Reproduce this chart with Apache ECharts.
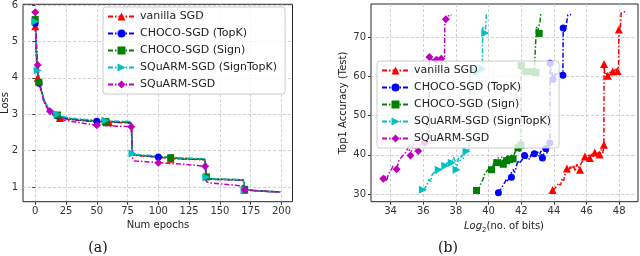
<!DOCTYPE html>
<html><head><meta charset="utf-8">
<script src="https://cdn.jsdelivr.net/npm/echarts@6/dist/echarts.min.js"></script>
<style>html,body{margin:0;padding:0;background:#fff}#c{width:640px;height:256px}</style>
</head><body><div id="c"></div>
<script>
// ---------- names ----------
const seriesNames = ['vanilla SGD', 'CHOCO-SGD (TopK)', 'CHOCO-SGD (Sign)', 'SQuARM-SGD (SignTopK)', 'SQuARM-SGD'];

// ---------- panel (a): loss vs epochs ----------
const epochs = [0,1,2,3,4,5,7,10,12,15,18,20,25,30,40,50,57,60,70,78,79,81,90,100,110,120,130,138,139,141,150,160,169,170,180,190,199];
const lossVanilla   = [5.42,4.55,4.0,3.82,3.72,3.63,3.36,3.17,3.08,2.99,2.93,2.9,2.87,2.85,2.82,2.8,2.78,2.78,2.77,2.76,1.9,1.87,1.85,1.82,1.78,1.77,1.76,1.75,1.27,1.22,1.21,1.2,1.19,0.93,0.9,0.88,0.87];
const lossTopK      = [5.5,4.6,4.1,3.85,3.74,3.64,3.38,3.18,3.09,3.0,2.95,2.92,2.89,2.86,2.83,2.81,2.79,2.79,2.78,2.77,1.9,1.88,1.86,1.83,1.8,1.78,1.77,1.76,1.26,1.22,1.21,1.2,1.19,0.93,0.9,0.88,0.87];
const lossSign      = [5.6,4.7,4.15,3.88,3.76,3.66,3.4,3.19,3.1,3.01,2.98,2.94,2.9,2.87,2.84,2.82,2.8,2.8,2.79,2.78,1.9,1.88,1.86,1.84,1.81,1.79,1.78,1.77,1.28,1.23,1.22,1.21,1.2,0.94,0.9,0.88,0.87];
const lossSignTopK  = [5.55,4.75,4.2,3.9,3.78,3.68,3.42,3.21,3.12,3.04,3.0,2.96,2.92,2.89,2.86,2.84,2.83,2.82,2.81,2.8,1.92,1.9,1.88,1.85,1.82,1.8,1.79,1.78,1.27,1.24,1.22,1.21,1.21,0.93,0.9,0.88,0.87];
const lossSquarm    = [5.8,5.0,4.35,4.0,3.8,3.62,3.35,3.15,3.08,2.96,2.9,2.87,2.83,2.8,2.75,2.7,2.69,2.68,2.67,2.66,1.8,1.72,1.7,1.67,1.65,1.63,1.6,1.57,1.15,1.12,1.09,1.06,1.03,0.93,0.9,0.88,0.87];
const lossMarksVanilla  = [0,2,11,17,24,33];
const lossMarksTopK     = [0,3,10,15,23,33];
const lossMarksSign     = [0,3,10,16,24,28,33];
const lossMarksSignTopK = [0,2,10,16,20,28,33];
const lossMarksSquarm   = [0,2,8,15,19,23,27,33];
const epochTicks = [0,25,50,75,100,125,150,175,200];
const lossTicks  = [1,2,3,4,5,6];

// ---------- panel (b): accuracy vs log2(bits) ----------
const bitsVanilla = [43.92,44.0,44.1,44.2,44.3,44.4,44.5,44.6,44.7,44.8,44.9,45.0,45.1,45.2,45.3,45.4,45.5,45.6,45.7,45.8,45.9,46.0,46.1,46.2,46.3,46.4,46.5,46.6,46.7,46.8,46.9,47.0,47.06,47.07,47.12,47.2,47.3,47.4,47.5,47.6,47.7,47.8,47.9,47.96,47.98,48.03,48.08,48.12,48.25,48.4];
const accVanilla  = [31.0,30.6,31.6,31.2,32.8,32.2,34.0,33.4,35.6,36.5,35.6,37.0,36.4,37.4,35.8,37.6,36.6,36.2,38.0,38.8,39.6,38.8,39.9,39.2,40.2,39.5,40.6,39.8,40.9,40.1,41.3,40.5,42.6,63.2,60.0,60.8,60.2,61.0,60.5,61.3,60.9,61.8,61.4,62.0,72.0,71.4,73.0,76.2,76.5,76.5];
const bitsTopK = [40.6,40.7,40.8,40.9,41.0,41.1,41.2,41.3,41.4,41.5,41.6,41.7,41.8,41.9,42.0,42.1,42.2,42.3,42.4,42.5,42.6,42.7,42.8,42.9,43.0,43.1,43.2,43.3,43.4,43.5,43.6,43.75,43.77,43.85,43.95,44.05,44.15,44.3,44.45,44.55,44.57,44.65,44.75,44.85,44.95,45.05];
const accTopK  = [30.3,30.7,31.6,31.2,33.0,33.9,33.2,34.6,34.3,36.2,35.5,37.0,38.6,37.8,38.3,39.1,39.8,39.0,39.7,38.8,40.0,40.6,40.3,39.9,40.8,39.6,41.0,39.2,40.6,41.6,40.3,43.0,63.4,61.5,59.3,60.6,61.1,60.5,61.2,60.3,72.4,71.5,72.8,75.7,75.8,75.8];
const bitsSign = [39.26,39.35,39.45,39.55,39.65,39.75,39.85,39.95,40.05,40.18,40.3,40.4,40.5,40.6,40.7,40.8,40.9,41.0,41.1,41.2,41.3,41.4,41.5,41.6,41.7,41.8,41.9,41.98,42.0,42.1,42.2,42.3,42.4,42.5,42.6,42.7,42.8,42.9,42.93,43.0,43.1,43.15,43.2,43.25];
const accSign  = [30.9,31.0,31.8,33.0,33.6,35.0,35.6,35.9,36.6,36.2,37.6,39.0,38.0,39.3,38.2,39.5,37.6,39.0,38.5,39.8,38.8,40.0,39.0,40.5,40.0,41.8,40.8,42.5,62.8,61.0,60.5,61.2,60.6,61.0,60.8,61.2,61.5,61.0,72.7,71.5,71.0,74.0,76.0,75.8];
const bitsSignTopK = [35.98,36.05,36.15,36.25,36.35,36.45,36.55,36.65,36.75,36.85,36.95,37.05,37.15,37.25,37.35,37.45,37.55,37.65,37.75,37.85,37.95,38.04,38.15,38.25,38.35,38.45,38.55,38.65,38.8,38.86,38.95,39.05,39.15,39.25,39.35,39.45,39.55,39.62,39.64,39.72,39.8,39.86,39.95,40.0];
const accSignTopK  = [31.1,30.8,31.8,32.5,33.8,33.2,35.0,34.5,35.8,35.2,36.2,35.8,36.5,36.0,37.2,38.0,37.2,38.6,38.0,39.4,38.5,36.2,39.2,38.5,40.0,39.0,40.5,40.9,41.5,62.0,61.0,61.8,60.8,61.5,61.2,62.0,62.5,62.0,72.8,70.5,71.1,75.7,75.8,75.8];
const bitsSquarm = [33.55,33.65,33.75,33.85,33.95,34.05,34.15,34.25,34.37,34.5,34.6,34.7,34.8,34.9,35.0,35.1,35.22,35.3,35.4,35.5,35.6,35.69,35.8,35.9,36.0,36.1,36.2,36.3,36.37,36.38,36.5,36.6,36.7,36.8,36.9,37.0,37.1,37.2,37.3,37.32,37.38,37.45,37.55,37.65,37.72];
const accSquarm  = [33.9,34.6,33.2,35.0,35.6,36.3,37.1,36.6,36.3,38.5,38.0,39.6,39.9,40.5,41.0,42.1,39.8,41.6,42.6,41.8,42.1,41.0,43.0,42.5,43.5,43.0,44.0,43.5,43.8,65.0,64.5,64.0,64.8,64.3,64.6,64.2,64.5,64.3,64.8,74.5,74.6,75.2,75.5,75.8,75.6];
const accMarksVanilla  = [0,9,17,20,23,26,29,32,33,36,39,42,44];
const accMarksTopK     = [0,8,16,22,27,29,31,32,34,39,40];
const accMarksSign     = [0,9,12,16,18,20,22,25,27,28,31,35,37,40];
const accMarksSignTopK = [0,10,14,18,21,27,31,34,37,40];
const accMarksSquarm   = [0,8,16,21,25,29,33,36,40];
const bitsTicks = [34,36,38,40,42,44,46,48];
const accTicks  = [30,40,50,60,70];

// ---------- styling ----------
const colors  = ['#ff0000', '#0000ff', '#008000', '#00bfbf', '#bf00bf'];
const symbols = ['triangle', 'circle', 'rect', 'triangle', 'diamond'];
const rotates = [0, 0, 0, -90, 0];
const sizes   = [8, 7, 7, 8, 8];
const FONT = 'DejaVu Sans';

function zipXY(xs, ys) { return xs.map((x, i) => [x, ys[i]]); }

function mkSeries(k, xs, ys, marks, gi) {
  return {
    type: 'line', name: seriesNames[k], xAxisIndex: gi, yAxisIndex: gi,
    data: zipXY(xs, ys),
    symbol: symbols[k], symbolRotate: rotates[k],
    symbolSize: (v, p) => marks.includes(p.dataIndex) ? sizes[k] : 0,
    showAllSymbol: true, showSymbol: true,
    lineStyle: { color: colors[k], width: 1.5, type: [5, 2, 1.5, 2] },
    itemStyle: { color: colors[k] },
    emphasis: { disabled: true }, silent: true, animation: false
  };
}

function mkAxis(gi, min, max, ticks) {
  return {
    type: 'value', gridIndex: gi, min: min, max: max,
    axisLine: { show: false },
    axisTick: { show: true, length: 3, lineStyle: { color: '#333' }, customValues: ticks },
    axisLabel: { fontFamily: FONT, fontSize: 10, color: '#333', margin: 5, customValues: ticks },
    splitLine: { show: true, lineStyle: { color: '#c4c4c4', width: 0.8, type: [3, 2] } }
  };
}
function mkLegend(left, top) {
  return {
    orient: 'vertical', left: left, top: top, data: seriesNames,
    itemWidth: 27, itemHeight: 10, itemGap: 6, padding: [4, 8, 4, 4],
    textStyle: { fontFamily: FONT, fontSize: 11, color: '#222' },
    backgroundColor: 'rgba(255,255,255,0.8)', borderColor: '#cccccc', borderWidth: 1, borderRadius: 3,
    selectedMode: false
  };
}

const chart = echarts.init(document.getElementById('c'), null, { renderer: 'canvas' });
chart.setOption({
  animation: false,
  backgroundColor: '#fff',
  grid: [
    { left: 23, top: 4, width: 269.5, height: 197.7, show: true, borderColor: '#262626', borderWidth: 1, containLabel: false },
    { left: 371, top: 4, width: 267, height: 197.7, show: true, borderColor: '#262626', borderWidth: 1, containLabel: false }
  ],
  xAxis: [ mkAxis(0, -9.95, 208.95, epochTicks), mkAxis(1, 32.8, 49.15, bitsTicks) ],
  yAxis: [ mkAxis(0, 0.6, 6.02, lossTicks), mkAxis(1, 28.04, 78.5, accTicks) ],
  legend: [ mkLegend(103, 7), mkLegend(377, 61) ],
  series: [
    mkSeries(0, epochs, lossVanilla, lossMarksVanilla, 0),
    mkSeries(1, epochs, lossTopK, lossMarksTopK, 0),
    mkSeries(2, epochs, lossSign, lossMarksSign, 0),
    mkSeries(3, epochs, lossSignTopK, lossMarksSignTopK, 0),
    mkSeries(4, epochs, lossSquarm, lossMarksSquarm, 0),
    mkSeries(0, bitsVanilla, accVanilla, accMarksVanilla, 1),
    mkSeries(1, bitsTopK, accTopK, accMarksTopK, 1),
    mkSeries(2, bitsSign, accSign, accMarksSign, 1),
    mkSeries(3, bitsSignTopK, accSignTopK, accMarksSignTopK, 1),
    mkSeries(4, bitsSquarm, accSquarm, accMarksSquarm, 1)
  ],
  graphic: [
    { type: 'text', x: 5, y: 103, rotation: Math.PI / 2,
      style: { text: 'Loss', fontFamily: FONT, fontSize: 10, fill: '#222', align: 'center', verticalAlign: 'middle' } },
    { type: 'text', x: 158, y: 225,
      style: { text: 'Num epochs', fontFamily: FONT, fontSize: 10, fill: '#222', align: 'center', verticalAlign: 'middle' } },
    { type: 'text', x: 98, y: 248,
      style: { text: '(a)', fontFamily: 'DejaVu Serif', fontSize: 14, fill: '#111', align: 'center', verticalAlign: 'middle' } },
    { type: 'text', x: 343, y: 103, rotation: Math.PI / 2,
      style: { text: 'Top1 Accuracy (Test)', fontFamily: FONT, fontSize: 10, fill: '#222', align: 'center', verticalAlign: 'middle' } },
    { type: 'text', x: 504, y: 226,
      style: { text: '{i|Log}{s|2}{n|(no. of bits)}', align: 'center', verticalAlign: 'middle',
        rich: {
          i: { fontFamily: FONT, fontSize: 10, fontStyle: 'italic', fill: '#222', lineHeight: 16, verticalAlign: 'middle' },
          s: { fontFamily: FONT, fontSize: 7, fill: '#222', lineHeight: 8, verticalAlign: 'bottom' },
          n: { fontFamily: FONT, fontSize: 10, fill: '#222', lineHeight: 16, verticalAlign: 'middle' }
        } } },
    { type: 'text', x: 448, y: 248,
      style: { text: '(b)', fontFamily: 'DejaVu Serif', fontSize: 14, fill: '#111', align: 'center', verticalAlign: 'middle' } }
  ]
});
</script>
</body></html>
